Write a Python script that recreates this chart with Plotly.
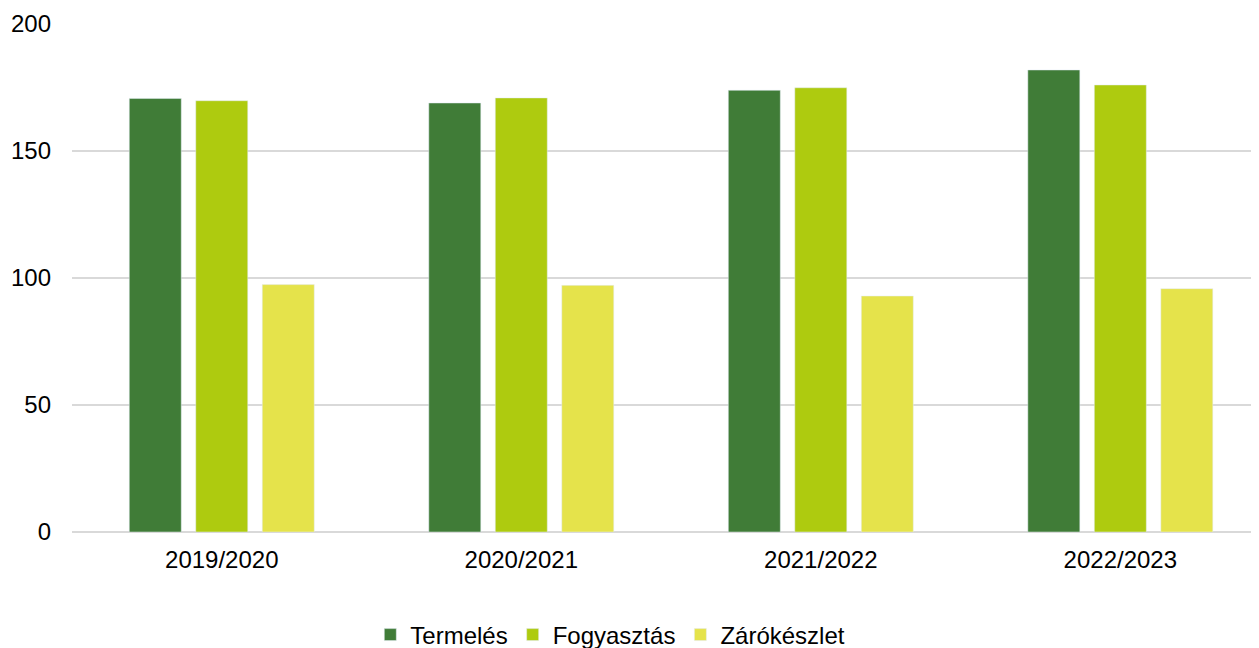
import plotly.graph_objects as go

# Data
seasons = ['2019/2020', '2020/2021', '2021/2022', '2022/2023']
termeles = [170.7, 168.9, 173.9, 181.9]
fogyasztas = [169.8, 170.9, 174.9, 176.0]
zarokeszlet = [97.4, 97.1, 92.9, 95.8]

colors = ['#407C37', '#AECB0F', '#E5E34B']

fig = go.Figure()
fig.add_trace(go.Bar(x=seasons, y=termeles, name='Termelés', marker_color=colors[0]))
fig.add_trace(go.Bar(x=seasons, y=fogyasztas, name='Fogyasztás', marker_color=colors[1]))
fig.add_trace(go.Bar(x=seasons, y=zarokeszlet, name='Zárókészlet', marker_color=colors[2]))

# Layout settings (page body has an 8px margin, so the figure is 8px smaller)
fig.update_layout(
    width=1251, height=640,
    barmode='group',
    bargap=0.334,
    bargroupgap=0.218,
    plot_bgcolor='white',
    paper_bgcolor='white',
    font=dict(family='Liberation Sans, Arial, sans-serif', size=24, color='#000000'),
    margin=dict(l=64, r=0, t=16, b=116),
    showlegend=True,
    legend=dict(
        orientation='h',
        x=0.4535, xanchor='center',
        yref='container',
        y=0.0203, yanchor='middle',
        font=dict(size=24),
    ),
    yaxis=dict(
        range=[0, 200],
        tickvals=[0, 50, 100, 150, 200],
        showgrid=True,
        gridcolor='#D9D9D9',
        gridwidth=1.5,
        zeroline=True,
        zerolinecolor='#D9D9D9',
        zerolinewidth=1.5,
        ticks='',
        ticklabelstandoff=20,
    ),
    xaxis=dict(
        # right edge of the chart is cut off in the reference
        range=[-0.5, 3.463],
        showline=False,
        ticks='',
        ticklabelstandoff=11,
    ),
)

fig.write_html('out.html')
